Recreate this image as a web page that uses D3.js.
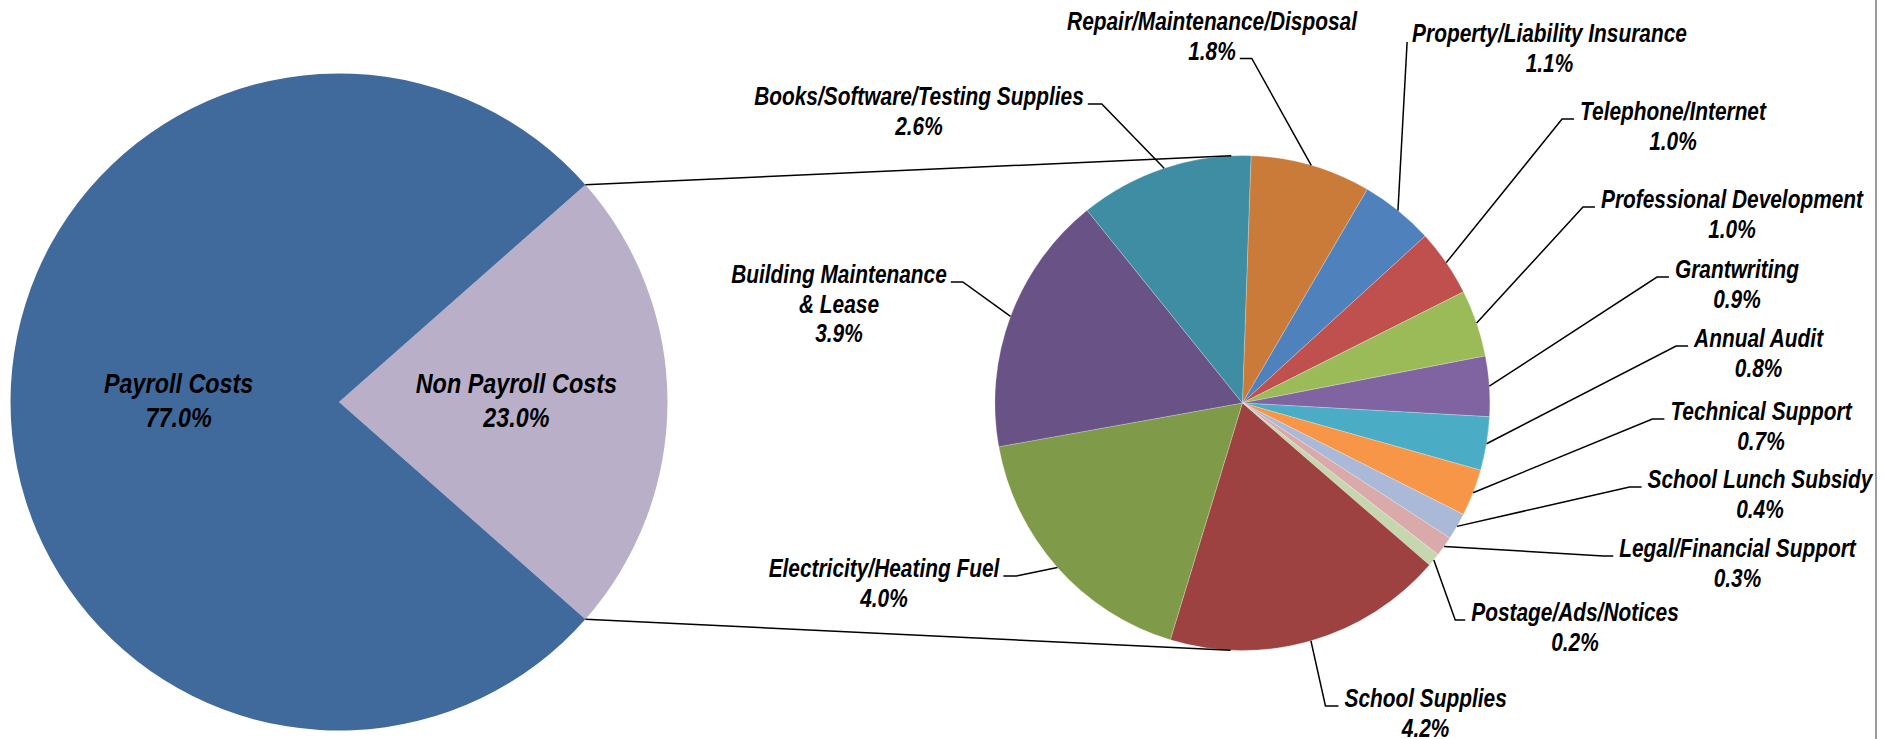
<!DOCTYPE html>
<html><head><meta charset="utf-8">
<script src="https://cdn.jsdelivr.net/npm/d3@7"></script>
<style>html,body{margin:0;padding:0;background:#fff;overflow:hidden}</style>
</head><body><svg id="chart" width="1884" height="739"></svg>
<script>
// ---------- data ----------
const mainCategories = ["Payroll Costs", "Non Payroll Costs"];
const mainValues = [77.0, 23.0];
const mainColors = ["#416A9C", "#B9AFC9"];

const subCategories = [
  "Repair/Maintenance/Disposal",
  "Property/Liability Insurance",
  "Telephone/Internet",
  "Professional Development",
  "Grantwriting",
  "Annual Audit",
  "Technical Support",
  "School Lunch Subsidy",
  "Legal/Financial Support",
  "Postage/Ads/Notices",
  "School Supplies",
  "Electricity/Heating Fuel",
  "Building Maintenance\n& Lease",
  "Books/Software/Testing Supplies"
];
const subValues = [1.8, 1.1, 1.0, 1.0, 0.9, 0.8, 0.7, 0.4, 0.3, 0.2, 4.2, 4.0, 3.9, 2.6];
const subColors = ["#CB7B39", "#4F81BD", "#C0504D", "#9BBB59", "#8064A2", "#4BACC6", "#F79646",
                   "#AAB9D8", "#D9AAA9", "#C6D6AF", "#9D4240", "#7F9A48", "#695285", "#3E8DA3"];

// ---------- layout ----------
const W = 1884, H = 739;
const big = {cx: 339, cy: 402, r: 328.5};
const small = {cx: 1242.4, cy: 403, r: 247.5, rotationDeg: 2};
const bigLabelRadius = [0.488, 0.54];
const bigFont = 28, bigLH = 34, bigBaseOff = -9;
const subFont = 25, subLH = 29.5;
// label centre x and first-line baseline y
const subLabelPos = [[1212,30],[1549.5,42],[1673,120],[1732,208],[1737,278],[1758.6,347],[1761,420],
                     [1760,488],[1737.5,557],[1575,621],[1425.6,707],[884,577],[839,283],[919,105]];
const subAttachLine = [1,0,0,0,0,0,0,0,0,0,0,0,0,0];
const subSegment = [12,0,12,12,12,12,12,12,10,10,13,13,12,14];

const fmt = d => d3.format(".1f")(d) + "%";
const svg = d3.select("#chart");
svg.append("rect").attr("width", W).attr("height", H).attr("fill", "#fff");

// condensed look: Arial-metric font squeezed horizontally
const FONT = "'Liberation Sans', Arial, sans-serif";
const SX = 0.835;

function addText(g, str, x, y, size) {
  const t = g.append("text")
    .attr("transform", `translate(${x},${y}) scale(${SX},1)`)
    .attr("text-anchor", "middle")
    .attr("font-family", FONT).attr("font-size", size)
    .attr("font-weight", "bold").attr("font-style", "italic")
    .attr("fill", "#000").text(str);
  return t.node().getComputedTextLength() * SX;
}

// ---------- main pie ----------
const mainTotal = d3.sum(mainValues);
const nonIdx = 1;
const mainStart = Math.PI / 2 - (mainValues[nonIdx] / mainTotal) * Math.PI;
const mainPie = d3.pie().sort(null).startAngle(mainStart).endAngle(mainStart + 2 * Math.PI);
const mainData = mainPie([mainValues[1], mainValues[0]]).map((d, i) => ({...d, idx: i === 0 ? 1 : 0}));
const gBig = svg.append("g").attr("transform", `translate(${big.cx},${big.cy})`);
const arcBig = d3.arc().innerRadius(0).outerRadius(big.r);
gBig.selectAll("path").data(mainData).join("path")
  .attr("d", arcBig).attr("fill", d => mainColors[d.idx]);

// ---------- sub pie ----------
const rot = small.rotationDeg * Math.PI / 180;
const subPie = d3.pie().sort(null).startAngle(rot).endAngle(rot + 2 * Math.PI);
const subData = subPie(subValues);
const gSmall = svg.append("g").attr("transform", `translate(${small.cx},${small.cy})`);
const arcSmall = d3.arc().innerRadius(0).outerRadius(small.r);
gSmall.selectAll("path").data(subData).join("path")
  .attr("d", arcSmall).attr("fill", (d, i) => subColors[i])
  .attr("stroke", "#fff").attr("stroke-width", 0.4).attr("stroke-opacity", 0.6);

// ---------- connector lines (tangent from wedge edges to sub pie) ----------
const nonSlice = mainData.find(d => d.idx === nonIdx);
[nonSlice.startAngle, nonSlice.endAngle].forEach((a, k) => {
  const px = big.cx + big.r * Math.sin(a), py = big.cy - big.r * Math.cos(a);
  const vx = px - small.cx, vy = py - small.cy;
  const d = Math.hypot(vx, vy);
  const phi = Math.atan2(vy, vx);
  const beta = Math.acos(small.r / d);
  const t = k === 0 ? phi + beta : phi - beta;
  const tx = small.cx + small.r * Math.cos(t), ty = small.cy + small.r * Math.sin(t);
  svg.append("line").attr("x1", px).attr("y1", py).attr("x2", tx).attr("y2", ty)
    .attr("stroke", "#000").attr("stroke-width", 1.5);
});

// ---------- big labels ----------
const gBigLab = svg.append("g");
mainData.forEach(d => {
  const rr = bigLabelRadius[d.idx] * big.r;
  const c = d3.arc().innerRadius(rr).outerRadius(rr).centroid(d);
  const x = big.cx + c[0], y = big.cy + c[1] + bigBaseOff;
  addText(gBigLab, mainCategories[d.idx], x, y, bigFont);
  addText(gBigLab, fmt(mainValues[d.idx]), x, y + bigLH, bigFont);
});

// ---------- sub labels + leaders ----------
const gLead = svg.append("g");
const gLab = svg.append("g");
const arcEdge = d3.arc().innerRadius(small.r).outerRadius(small.r);
subData.forEach((d, i) => {
  const [lx, ly] = subLabelPos[i];
  const lines = subCategories[i].split("\n").concat([fmt(subValues[i])]);
  const widths = lines.map((s, k) => addText(gLab, s, lx, ly + k * subLH, subFont));
  const c = arcEdge.centroid(d);
  const ax = small.cx + c[0], ay = small.cy + c[1];
  const k = subAttachLine[i];
  const seg = subSegment[i];
  const yy = ly + k * subLH - (seg > 0 ? 1 : 0);
  let ex, elx;
  if (lx < ax) { ex = lx + widths[k] / 2 + 4; elx = ex + seg; }
  else { ex = lx - widths[k] / 2 - (seg > 0 ? 6 : 5); elx = ex - seg; }
  gLead.append("path").attr("d", `M${ax},${ay}L${elx},${yy}L${ex},${yy}`)
    .attr("fill", "none").attr("stroke", "#000").attr("stroke-width", 1.5);
});

// ---------- right border ----------
svg.append("line").attr("x1", 1876).attr("x2", 1876).attr("y1", 0).attr("y2", H)
  .attr("stroke", "#9a9a9a").attr("stroke-width", 2);
</script>
</body></html>
